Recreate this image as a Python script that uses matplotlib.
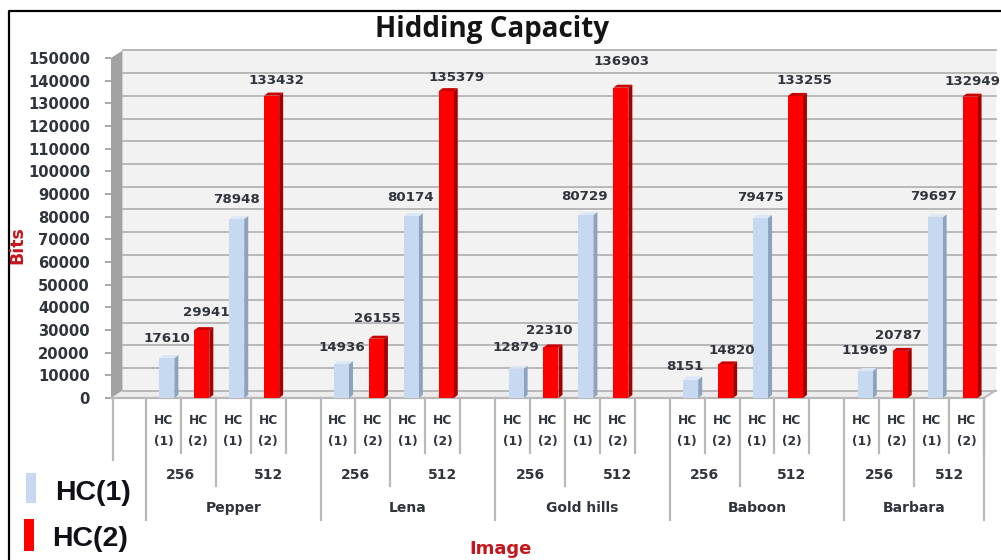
import matplotlib
matplotlib.use("Agg")
import matplotlib.pyplot as plt
from matplotlib.lines import Line2D
from matplotlib.patches import Rectangle

images = ["Pepper", "Lena", "Gold hills", "Baboon", "Barbara"]
sizes = ["256", "512"]
series = ["HC(1)", "HC(2)"]
hc1_256 = [17610, 14936, 12879, 8151, 11969]
hc2_256 = [29941, 26155, 22310, 14820, 20787]
hc1_512 = [78948, 80174, 80729, 79475, 79697]
hc2_512 = [133432, 135379, 136903, 133255, 132949]
y_ticks = list(range(0, 160000, 10000))

# hand placed value labels, pixels from the top centre of each bar
label_dx = [0, 5, 0, 5, 0, 1, -1, 10, 0, -2, -1, 1, -6, 6, 0, 9, 0, -2, -2, 2]
label_dy = [20, 18, 20, 15, 17, 20, 19, 14, 21, 17, 19, 26, 13, 14, 20, 15, 20, 15, 21, 15]

W, H = 1001, 560
LEFT, RIGHT, Y0, Y150 = 111, 984, 398, 58
BLUE, BLUE_SIDE, BLUE_TOP = "#c6d9f1", "#8ca2bd", "#dce7f6"
RED, RED_SIDE, RED_TOP = "#ff0000", "#a30000", "#c80000"
LINE = "#b8b8b8"
TEXT = "#30343c"

fig = plt.figure(figsize=(W / 100, H / 100), dpi=100)
ax = fig.add_axes([LEFT / W, 1 - Y0 / H, (RIGHT - LEFT) / W, (Y0 - Y150) / H])
ax.set_xlim(0, 25)
ax.set_ylim(0, 150000)

px_x = 25 / (RIGHT - LEFT)
px_y = 150000 / (Y0 - Y150)
wall_dx, wall_dy = 11.5 * px_x, 7.5 * px_y
bar_dx, bar_dy = 4 * px_x, 3 * px_y


def below(py):
    # pixel row under the plot, as an axes fraction
    return (Y0 - py) / (Y0 - Y150)


# back wall, floor and left side
ax.fill([wall_dx, 25 + wall_dx, 25 + wall_dx, wall_dx], [wall_dy, wall_dy, 150000 + wall_dy, 150000 + wall_dy],
        color="#f2f2f2", lw=0, zorder=1, clip_on=False)
ax.fill([0, wall_dx, 25 + wall_dx, 25], [0, wall_dy, wall_dy, 0], color="#ececec", lw=0, zorder=1, clip_on=False)
ax.fill([0, wall_dx, wall_dx, 0], [0, wall_dy, 150000 + wall_dy, 150000], color="#a2a2a2", lw=0, zorder=2, clip_on=False)
for v in y_ticks:
    ax.plot([wall_dx, 25 + wall_dx], [v + wall_dy, v + wall_dy], color=LINE, lw=1.4, zorder=2, clip_on=False)
ax.plot([25, 25 + wall_dx], [0, wall_dy], color=LINE, lw=1.4, zorder=2, clip_on=False)

# bars, one group of four per image
positions = []
values = []
colors = []
for g in range(len(images)):
    start = 1 + g * 5
    group = [hc1_256[g], hc2_256[g], hc1_512[g], hc2_512[g]]
    for k, v in enumerate(group):
        positions.append(start + k + 0.6)
        values.append(v)
        colors.append(k % 2)

bar_w = 0.43
for x, v, c in zip(positions, values, colors):
    face, side, top = (RED, RED_SIDE, RED_TOP) if c else (BLUE, BLUE_SIDE, BLUE_TOP)
    x0, x1 = x - bar_w / 2, x + bar_w / 2
    ax.fill([x1, x1 + bar_dx, x1 + bar_dx, x1], [0, bar_dy, v + bar_dy, v], color=side, lw=0, zorder=3)
    ax.fill([x0, x1, x1 + bar_dx, x0 + bar_dx], [v, v, v + bar_dy, v + bar_dy], color=top, lw=0, zorder=3)
    ax.bar(x, v, width=bar_w, color=face, zorder=4)

for x, v, dx, dy in zip(positions, values, label_dx, label_dy):
    ax.annotate(str(v), (x, v), xytext=(dx, dy), textcoords="offset pixels", ha="center", va="center",
                fontsize=9.6, fontweight="bold", color=TEXT, zorder=6, annotation_clip=False)

# y axis
ax.set_yticks(y_ticks)
ax.set_yticklabels([str(v) for v in y_ticks], fontsize=10.6, fontweight="bold", color=TEXT)
ax.tick_params(axis="y", length=4.3, width=1.4, color="#a8a8a8", pad=10.8)
ax.set_xticks([])
for name in ["top", "right", "left"]:
    ax.spines[name].set_visible(False)
ax.spines["bottom"].set_color(LINE)
ax.spines["bottom"].set_linewidth(1.6)

# three tier category axis below the floor
xt = ax.get_xaxis_transform()
ax.plot([0.05, 0.05], [below(Y0), below(460)], transform=xt, color=LINE, lw=1.6, clip_on=False)
for g, name in enumerate(images):
    start = 1 + g * 5
    end = start + 5 if g < 4 else start + 4
    ax.plot([start, start], [0, below(520)], transform=xt, color=LINE, lw=1.6, clip_on=False)
    ax.plot([start + 2, start + 2], [0, below(486)], transform=xt, color=LINE, lw=1.6, clip_on=False)
    for k in [1, 3, 4]:
        ax.plot([start + k, start + k], [0, below(453)], transform=xt, color=LINE, lw=1.6, clip_on=False)
    for k in range(4):
        tag = "(1)" if k % 2 == 0 else "(2)"
        ax.text(start + k + 0.5, below(421), "HC", transform=xt, ha="center", va="center",
                fontsize=8.8, fontweight="bold", color=TEXT)
        ax.text(start + k + 0.5, below(441), tag, transform=xt, ha="center", va="center",
                fontsize=8.8, fontweight="bold", color=TEXT)
    ax.text(start + 1, below(475), sizes[0], transform=xt, ha="center", va="center",
            fontsize=10, fontweight="bold", color=TEXT)
    ax.text((start + 2 + end) / 2, below(475), sizes[1], transform=xt, ha="center", va="center",
            fontsize=10, fontweight="bold", color=TEXT)
    ax.text((start + end) / 2, below(508), name, transform=xt, ha="center", va="center",
            fontsize=10, fontweight="bold", color=TEXT)
ax.plot([25, 25], [0, below(520)], transform=xt, color=LINE, lw=1.6, clip_on=False)

# titles
fig.text(492 / W, 1 - 29 / H, "Hidding Capacity", ha="center", va="center", fontsize=20,
         fontweight="bold", family="Open Sans", color="#141414")
fig.text(17 / W, 1 - 245 / H, "Bits", ha="center", va="center", rotation=90, fontsize=12.5,
         fontweight="bold", color="#c4161c")
fig.text(501 / W, 1 - 549 / H, "Image", ha="center", va="center", fontsize=13,
         fontweight="bold", color="#c4161c")

# legend drawn by hand in the lower left corner
fig.add_artist(Rectangle((26 / W, 1 - 503 / H), 10 / W, 30 / H, transform=fig.transFigure, color=BLUE, lw=0))
fig.add_artist(Rectangle((24 / W, 1 - 551 / H), 10 / W, 32 / H, transform=fig.transFigure, color=RED, lw=0))
fig.text(55 / W, 1 - 493 / H, series[0], ha="left", va="center", fontsize=20.5, family="Liberation Sans",
         fontweight="bold", color="#101018")
fig.text(52 / W, 1 - 539 / H, series[1], ha="left", va="center", fontsize=20.5, family="Liberation Sans",
         fontweight="bold", color="#101018")

# outer frame, open on the right and at the bottom
fig.add_artist(Line2D([9 / W, 9 / W, 1], [0, 1 - 11 / H, 1 - 11 / H], transform=fig.transFigure, color="black", lw=1.6))

fig.savefig("out.png", dpi=100)
